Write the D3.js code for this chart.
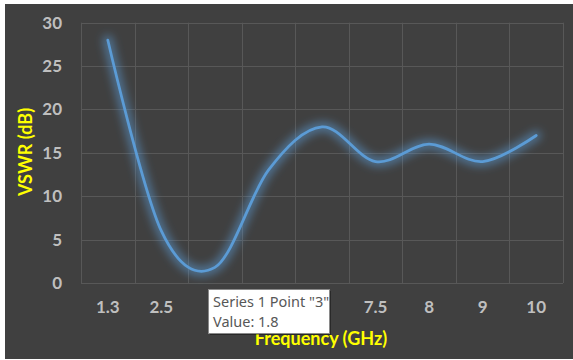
<!DOCTYPE html>
<html>
<head>
<meta charset="utf-8">
<script src="https://cdn.jsdelivr.net/npm/d3@7"></script>
<style>
  html, body { margin: 0; padding: 0; background: #ffffff; }
  svg { display: block; }
</style>
</head>
<body>
<svg id="chart" width="573" height="360"></svg>
<script>
// Frequency categories (GHz) and measured VSWR values
const categories = ["1.3", "2.5", "3", "5", "7", "7.5", "8", "9", "10"];
const vswr = [28, 6, 1.8, 13, 18, 14, 16, 14, 17];
const yTicks = [0, 5, 10, 15, 20, 25, 30];
const hoverIndex = 2;

const svg = d3.select("#chart");
const W = 573, H = 360;
const plot = { left: 81, right: 563, top: 22.7, bottom: 283 };

// dark chart background
svg.append("rect").attr("x", 5).attr("y", 4).attr("width", W - 5).attr("height", H - 5)
  .attr("fill", "#404040");

const x = d3.scaleBand().domain(categories).range([plot.left, plot.right]).padding(0);
const y = d3.scaleLinear().domain([0, 30]).range([plot.bottom, plot.top]);

const defs = svg.append("defs");
const glow = defs.append("filter").attr("id", "glow")
  .attr("x", "-20%").attr("y", "-20%").attr("width", "140%").attr("height", "140%");
glow.append("feGaussianBlur").attr("stdDeviation", 4);

// gridlines
const grid = svg.append("g").attr("stroke", "#585858").attr("stroke-width", 1);
grid.selectAll("line.h").data(yTicks).join("line").attr("class", "h")
  .attr("x1", plot.left).attr("x2", plot.right)
  .attr("y1", d => Math.round(y(d)) + 0.5).attr("y2", d => Math.round(y(d)) + 0.5);
const bounds = categories.map(c => x(c)).concat([plot.right]);
grid.selectAll("line.v").data(bounds).join("line").attr("class", "v")
  .attr("x1", d => Math.round(d) + 0.5).attr("x2", d => Math.round(d) + 0.5)
  .attr("y1", plot.top).attr("y2", plot.bottom);

// y axis tick labels
const yAxis = d3.axisLeft(y).tickValues(yTicks).tickSize(0).tickPadding(19);
const gy = svg.append("g").attr("transform", `translate(${plot.left},0)`).call(yAxis);
gy.select(".domain").remove();
gy.selectAll("text").attr("fill", "#bfbfbf").attr("font-family", "Lato, sans-serif")
  .attr("font-weight", "bold").attr("font-size", 17);

// tooltip box geometry (tick labels beneath it are covered)
const tipBox = { x: 208, y: 289, w: 121, h: 44 };

// x axis tick labels
const xAxis = d3.axisBottom(x).tickSize(0).tickPadding(18);
const gx = svg.append("g").attr("transform", `translate(0,${plot.bottom})`).call(xAxis);
gx.select(".domain").remove();
gx.selectAll("text").attr("fill", "#bfbfbf").attr("font-family", "Lato, sans-serif")
  .attr("font-weight", "bold").attr("font-size", 17);
gx.selectAll(".tick")
  .filter(d => {
    const cx = x(d) + x.bandwidth() / 2;
    return cx > tipBox.x - 8 && cx < tipBox.x + tipBox.w + 8;
  })
  .remove();

// smoothed series with a soft glow
const line = d3.line()
  .x((d, i) => x(categories[i]) + x.bandwidth() / 2)
  .y(d => y(d))
  .curve(d3.curveCardinal.tension(0));

svg.append("path").datum(vswr).attr("d", line)
  .attr("fill", "none").attr("stroke", "#5b9bd5").attr("stroke-width", 10)
  .attr("stroke-opacity", 0.55).attr("stroke-linecap", "round").attr("filter", "url(#glow)");
svg.append("path").datum(vswr).attr("d", line)
  .attr("fill", "none").attr("stroke", "#5b9bd5").attr("stroke-width", 2.75)
  .attr("stroke-linecap", "round");

// axis titles
svg.append("text").attr("x", 321).attr("y", 345).attr("text-anchor", "middle")
  .attr("fill", "#ffff00").attr("font-family", "Lato, sans-serif").attr("font-weight", "bold")
  .attr("font-size", 18).text("Frequency (GHz)");
svg.append("text").attr("transform", "translate(32,152) rotate(-90)").attr("text-anchor", "middle")
  .attr("fill", "#ffff00").attr("font-family", "Lato, sans-serif").attr("font-weight", "bold")
  .attr("font-size", 18).text("VSWR (dB)");

// hover tooltip for the selected point
const tip = svg.append("g").attr("transform", `translate(${tipBox.x},${tipBox.y})`);
tip.append("rect").attr("x", 2).attr("y", 2).attr("width", tipBox.w).attr("height", tipBox.h)
  .attr("fill", "#000").attr("opacity", 0.35);
tip.append("rect").attr("x", 0.5).attr("y", 0.5).attr("width", tipBox.w).attr("height", tipBox.h)
  .attr("fill", "#ffffff").attr("stroke", "#8a8a8a");
tip.append("text").attr("x", 5).attr("y", 18).attr("fill", "#575757")
  .attr("font-family", "'Noto Sans', sans-serif").attr("font-size", 14.5)
  .text(`Series 1 Point "${categories[hoverIndex]}"`);
tip.append("text").attr("x", 5).attr("y", 38).attr("fill", "#575757")
  .attr("font-family", "'Noto Sans', sans-serif").attr("font-size", 14.5)
  .text(`Value: ${vswr[hoverIndex]}`);
</script>
</body>
</html>
